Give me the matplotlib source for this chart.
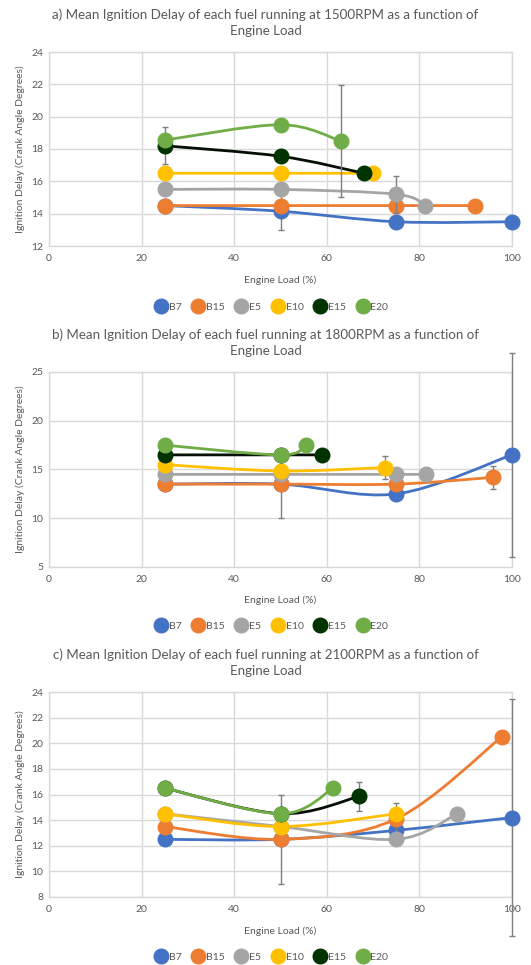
import numpy as np
import matplotlib
matplotlib.use("Agg")
import matplotlib.pyplot as plt
from matplotlib.path import Path
from matplotlib.patches import PathPatch
from matplotlib.lines import Line2D

plt.rcParams['font.family'] = ['Lato', 'DejaVu Sans']

series = ["B7", "B15", "E5", "E10", "E15", "E20"]
colors = ["#4472C4", "#ED7D31", "#A5A5A5", "#FFC000", "#003300", "#70AD47"]
line_colors = ["#4472C4", "#ED7D31", "#A5A5A5", "#FFC000", "#050F05", "#70AD47"]

titles = [
    "a) Mean Ignition Delay of each fuel running at 1500RPM as a function of\nEngine Load",
    "b) Mean Ignition Delay of each fuel running at 1800RPM as a function of\nEngine Load",
    "c) Mean Ignition Delay of each fuel running at 2100RPM as a function of\nEngine Load",
]
x_label = "Engine Load (%)"
y_label = "Ignition Delay (Crank Angle Degrees)"
x_ticks = [0, 20, 40, 60, 80, 100]
y_ticks_a = [12, 14, 16, 18, 20, 22, 24]
y_ticks_b = [5, 10, 15, 20, 25]
y_ticks_c = [8, 10, 12, 14, 16, 18, 20, 22, 24]

# ---- panel a: 1500 RPM ----
load_a = {"B7": [25, 50, 75, 100], "B15": [25, 50, 75, 92], "E5": [25, 50, 75, 81.3],
          "E10": [25, 50, 70], "E15": [25, 50, 68], "E20": [25, 50, 63]}
delay_a = {"B7": [14.5, 14.15, 13.5, 13.5], "B15": [14.5, 14.5, 14.5, 14.5],
           "E5": [15.5, 15.5, 15.2, 14.5], "E10": [16.5, 16.5, 16.5],
           "E15": [18.2, 17.55, 16.5], "E20": [18.55, 19.5, 18.5]}
err_a = {"B7": [0, 1.15, 0, 0], "B15": [0, 0, 0, 0], "E5": [0, 0, 1.15, 0],
         "E10": [0, 0, 0], "E15": [1.15, 0, 0], "E20": [0, 0, 3.47]}

# ---- panel b: 1800 RPM ----
load_b = {"B7": [25, 50, 75, 100], "B15": [25, 50, 75, 96], "E5": [25, 50, 75, 81.5],
          "E10": [25, 50, 72.5], "E15": [25, 50, 59], "E20": [25, 50, 55.5]}
delay_b = {"B7": [13.5, 13.5, 12.5, 16.5], "B15": [13.5, 13.5, 13.5, 14.2],
           "E5": [14.5, 14.5, 14.5, 14.5], "E10": [15.5, 14.85, 15.2],
           "E15": [16.5, 16.5, 16.5], "E20": [17.5, 16.5, 17.5]}
err_b = {"B7": [0, 0, 0, 10.45], "B15": [0, 3.5, 0, 1.17], "E5": [0, 0, 0, 0],
         "E10": [0, 0, 1.15], "E15": [0, 0, 0], "E20": [0, 0, 0]}

# ---- panel c: 2100 RPM ----
load_c = {"B7": [25, 50, 75, 100], "B15": [25, 50, 75, 97.8], "E5": [25, 50, 75, 88.2],
          "E10": [25, 50, 75], "E15": [25, 50, 67], "E20": [25, 50, 61.4]}
delay_c = {"B7": [12.5, 12.5, 13.2, 14.2], "B15": [13.5, 12.5, 14.1, 20.5],
           "E5": [14.5, 13.5, 12.5, 14.5], "E10": [14.5, 13.5, 14.5],
           "E15": [16.5, 14.5, 15.85], "E20": [16.5, 14.5, 16.5]}
err_c = {"B7": [0, 0, 0, 9.27], "B15": [0, 3.47, 1.2, 0], "E5": [0, 0, 0, 0],
         "E10": [0, 0, 0], "E15": [0, 0, 1.15], "E20": [0, 0, 0]}

W, H = 531, 965
fig = plt.figure(figsize=(W / 100, H / 100), dpi=100)

def fx(px):
    return px / W

def fy(py):
    return 1 - py / H

def smooth_path(xs, ys):
    pts = np.column_stack([xs, ys]).astype(float)
    n = len(pts)
    verts = [pts[0]]
    codes = [Path.MOVETO]
    for i in range(n - 1):
        p0 = pts[i - 1] if i > 0 else pts[i]
        p1 = pts[i]
        p2 = pts[i + 1]
        p3 = pts[i + 2] if i + 2 < n else pts[i + 1]
        c1 = p1 + (p2 - p0) / 6.0
        c2 = p2 - (p3 - p1) / 6.0
        verts += [c1, c2, p2]
        codes += [Path.CURVE4] * 3
    return Path(verts, codes)

panels = [
    dict(load=load_a, delay=delay_a, err=err_a, yt=y_ticks_a, top=52, bot=246,
         title_y=22.5, xl_y=280, leg_y=307),
    dict(load=load_b, delay=delay_b, err=err_b, yt=y_ticks_b, top=372, bot=567,
         title_y=342.5, xl_y=600, leg_y=626),
    dict(load=load_c, delay=delay_c, err=err_c, yt=y_ticks_c, top=692, bot=897,
         title_y=662.5, xl_y=931, leg_y=957),
]

left_px, right_px = 49, 512
grid_c = "#D9D9D9"
text_c = "#595959"

for k, p in enumerate(panels):
    ax = fig.add_axes([fx(left_px), fy(p["bot"]), fx(right_px - left_px),
                       (p["bot"] - p["top"]) / H])
    ax.set_xlim(0, 100)
    ax.set_ylim(p["yt"][0], p["yt"][-1])
    ax.set_xticks(x_ticks)
    ax.set_yticks(p["yt"])
    ax.tick_params(length=0, labelsize=7.5, colors=text_c)
    ax.tick_params(axis='x', pad=6)
    ax.tick_params(axis='y', pad=4)
    ax.grid(True, color=grid_c, linewidth=1)
    ax.set_axisbelow(True)
    for s in ax.spines.values():
        s.set_color(grid_c)
        s.set_linewidth(1)

    for j, name in enumerate(series):
        xs = p["load"][name]
        ys = p["delay"][name]
        es = p["err"][name]
        z = 3 + j
        path = smooth_path(xs, ys)
        ax.add_patch(PathPatch(path, facecolor='none', edgecolor=line_colors[j],
                               linewidth=2.0, zorder=z, capstyle='round'))
        for xv, yv, ev in zip(xs, ys, es):
            if ev > 0:
                ax.errorbar([xv], [yv], yerr=[ev], fmt='none', ecolor='#7F7F7F',
                            elinewidth=1.0, capsize=2.5, capthick=1.0,
                            zorder=z + 0.1, clip_on=False)
        ax.plot(xs, ys, linestyle='none', marker='o', markersize=10.5,
                markerfacecolor=colors[j], markeredgecolor=colors[j],
                zorder=z + 0.2, clip_on=False)

    fig.text(0.5, fy(p["title_y"]), titles[k], ha='center', va='center',
             fontsize=9.6, color=text_c, linespacing=1.45)
    fig.text(fx((left_px + right_px) / 2), fy(p["xl_y"]), x_label, ha='center',
             va='center', fontsize=7.5, color=text_c)
    fig.text(fx(20), fy((p["top"] + p["bot"]) / 2), y_label, ha='center',
             va='center', rotation=90, fontsize=7.5, color=text_c)

    handles = [Line2D([], [], linestyle='none', marker='o', markersize=10.5,
                      markerfacecolor=c, markeredgecolor=c) for c in colors]
    fig.legend(handles, series, loc='center', bbox_to_anchor=(fx(272), fy(p["leg_y"])),
               ncol=6, frameon=False, fontsize=7.5, handletextpad=0.25,
               columnspacing=1.1, handlelength=1.0, labelcolor=text_c,
               borderaxespad=0, borderpad=0)

fig.savefig("out.png", dpi=100)
